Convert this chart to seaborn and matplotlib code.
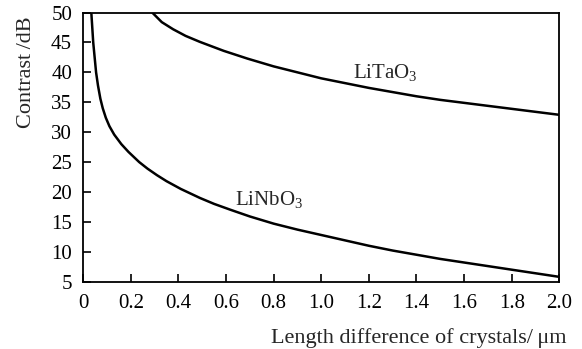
import matplotlib
matplotlib.use("Agg")
import matplotlib.pyplot as plt
import seaborn as sns
import pandas as pd

# Data
nb_x = [0.034, 0.042, 0.054, 0.062, 0.072, 0.082, 0.095, 0.11, 0.13, 0.16, 0.19, 0.235, 0.27,
        0.31, 0.35, 0.41, 0.49, 0.55, 0.62, 0.7, 0.8, 0.9, 1.0, 1.1, 1.2, 1.3, 1.4, 1.5,
        1.6, 1.7, 1.8, 1.9, 2.0]
nb_y = [50, 45, 40, 37.8, 35.6, 34.0, 32.4, 31.0, 29.6, 28.0, 26.7, 25.0, 23.9,
        22.8, 21.8, 20.5, 19.0, 18.0, 17.0, 15.9, 14.7, 13.7, 12.8, 11.9, 11.0, 10.2, 9.5, 8.8,
        8.2, 7.6, 7.0, 6.4, 5.8]
ta_x = [0.29, 0.33, 0.378, 0.43, 0.49, 0.59, 0.69, 0.8, 0.91, 1.0, 1.1, 1.2, 1.3, 1.4,
        1.5, 1.6, 1.7, 1.8, 1.9, 2.0]
ta_y = [50, 48.4, 47.2, 46.1, 45.1, 43.6, 42.3, 41.0, 39.9, 39.0, 38.2, 37.4, 36.7, 36.0,
        35.4, 34.9, 34.4, 33.9, 33.4, 32.9]
x_ticks = [0, 0.2, 0.4, 0.6, 0.8, 1.0, 1.2, 1.4, 1.6, 1.8, 2.0]
x_tick_labels = ["0", "0.2", "0.4", "0.6", "0.8", "1.0", "1.2", "1.4", "1.6", "1.8", "2.0"]
y_ticks = [5, 10, 15, 20, 25, 30, 35, 40, 45, 50]

sns.set_style("ticks")
plt.rcParams["font.family"] = ["Liberation Serif", "DejaVu Serif"]
plt.rcParams["mathtext.fontset"] = "custom"
plt.rcParams["mathtext.rm"] = "Liberation Serif"
plt.rcParams["mathtext.it"] = "Liberation Serif:italic"

df = pd.concat([
    pd.DataFrame({"x": nb_x, "y": nb_y, "s": "LiNbO3"}),
    pd.DataFrame({"x": ta_x, "y": ta_y, "s": "LiTaO3"}),
])

fig = plt.figure(figsize=(5.82, 3.49), dpi=100)
ax = fig.add_axes([0.143, 0.193, 0.818, 0.771])
sns.lineplot(data=df, x="x", y="y", units="s", estimator=None, color="black",
             linewidth=1.8, ax=ax, legend=False, sort=False)

ax.set_xlim(0, 2.0)
ax.set_ylim(5, 50)
ax.set_xticks(x_ticks)
ax.set_xticklabels(x_tick_labels)
ax.set_yticks(y_ticks)
ax.tick_params(direction="in", length=6, width=1.2, labelsize=15, colors="black", pad=8)
ax.tick_params(axis="x", pad=9)
for sp in ax.spines.values():
    sp.set_linewidth(1.3)
    sp.set_color("black")
    sp.set_visible(True)
ax.set_xlabel("")
ax.set_ylabel("")

ax.text(1.133, 39.0, r"$\mathregular{LiTaO_3}$", fontsize=15, ha="left", va="baseline")
ax.text(0.637, 17.8, r"$\mathregular{LiNbO_3}$", fontsize=15, ha="left", va="baseline")

fig.text(419 / 582, 1 - 338 / 349, "Length difference of crystals/\u2009μm", fontsize=16,
         ha="center", va="center")
fig.text(27 / 582, 1 - 72 / 349, "Contrast\u2009/dB", fontsize=16, rotation=90,
         ha="center", va="center")

fig.savefig("out.png", dpi=100)
